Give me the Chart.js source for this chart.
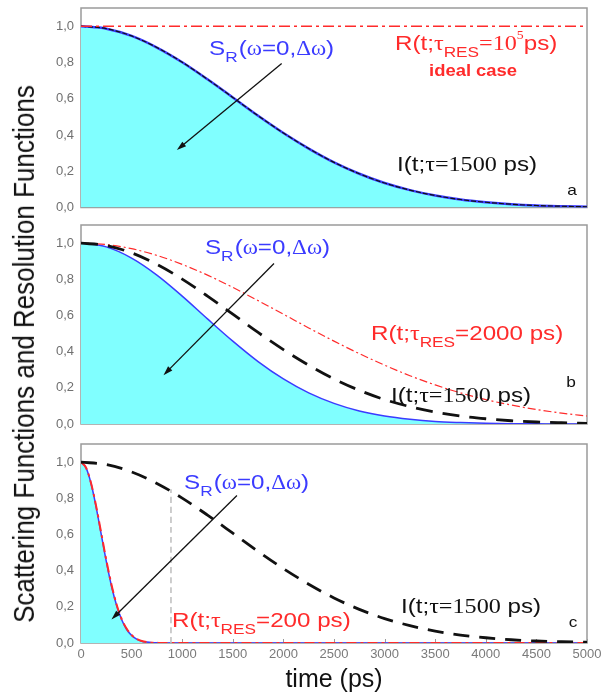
<!DOCTYPE html>
<html>
<head>
<meta charset="utf-8">
<script src="https://cdn.jsdelivr.net/npm/chart.js@4.4.1/dist/chart.umd.min.js"></script>
<style>
  body { margin: 0; background: #fff; }
  #wrap { position: relative; width: 612px; height: 697px; overflow: hidden; }
  .panel { position: absolute; left: 0; }
  #ytitle {
    position: absolute; left: 25px; top: 354px;
    transform: translate(-50%, -50%) rotate(-90deg) scaleY(1.1);
    white-space: nowrap; font-family: "Liberation Sans", Arial, sans-serif;
    font-size: 26px; color: #111;
  }
</style>
</head>
<body>
<div id="wrap">
  <canvas id="pa" class="panel" width="612" height="220" style="top:0px"></canvas>
  <canvas id="pb" class="panel" width="612" height="215" style="top:220px"></canvas>
  <canvas id="pc" class="panel" width="612" height="262" style="top:435px"></canvas>
  <div id="ytitle">Scattering Functions and Resolution Functions</div>
</div>
<script>
// time grid (ps) and curves
const times = [0, 250, 500, 750, 1000, 1250, 1500, 1750, 2000, 2250, 2500, 2750, 3000, 3250, 3500, 3750, 4000, 4250, 4500, 4750, 5000];
const iCurve = [1.000, 0.986, 0.946, 0.882, 0.801, 0.707, 0.607, 0.506, 0.411, 0.325, 0.249, 0.186, 0.135, 0.096, 0.066, 0.044, 0.029, 0.018, 0.011, 0.007, 0.004];

// panel a : ideal resolution
const rTimesA = [0, 5000];
const rCurveA = [1.0, 1.0];
const sCurveA = [1.000, 0.986, 0.946, 0.882, 0.801, 0.707, 0.607, 0.506, 0.411, 0.325, 0.249, 0.186, 0.135, 0.096, 0.066, 0.044, 0.029, 0.018, 0.011, 0.007, 0.004];

// panel b : resolution 2000 ps
const rCurveB = [1.000, 0.992, 0.969, 0.932, 0.882, 0.823, 0.755, 0.682, 0.607, 0.531, 0.458, 0.389, 0.325, 0.267, 0.216, 0.172, 0.135, 0.105, 0.080, 0.060, 0.044];
const sCurveB = [1.000, 0.979, 0.917, 0.823, 0.707, 0.581, 0.458, 0.345, 0.249, 0.172, 0.114, 0.072, 0.044, 0.026, 0.014, 0.008, 0.004, 0.002, 0.001, 0.000, 0.000];

// panel c : resolution 200 ps
const fineTimes = [0, 50, 100, 150, 200, 250, 300, 350, 400, 450, 500, 550, 600, 650, 700, 750, 800, 1000, 1500, 2000, 2500, 3000, 3500, 4000, 4500, 5000];
const rCurveC = [1.000, 0.969, 0.882, 0.755, 0.607, 0.458, 0.325, 0.216, 0.135, 0.080, 0.044, 0.023, 0.011, 0.005, 0.002, 0.001, 0, 0, 0, 0, 0, 0, 0, 0, 0, 0];
const sCurveC = [1.000, 0.968, 0.880, 0.750, 0.600, 0.451, 0.318, 0.211, 0.131, 0.076, 0.042, 0.021, 0.010, 0.005, 0.002, 0.001, 0, 0, 0, 0, 0, 0, 0, 0, 0, 0];
const markerTimes = [889, 889];
const markerValues = [0, 0.85];

const yTicks = [0, 0.2, 0.4, 0.6, 0.8, 1.0];
const xTicks = [0, 500, 1000, 1500, 2000, 2500, 3000, 3500, 4000, 4500, 5000];

const SANS = '"Liberation Sans", Arial, sans-serif';
const SERIF = '"Liberation Serif", "Times New Roman", serif';
const BLUE = '#3b3bff', RED = '#ff2b2b', CYAN = '#80ffff';
const STRETCH = 1.15; // the figure's lettering is a bit wide

function pts(xs, ys) {
    return xs.map((x, i) => ({ x: x, y: ys[i] }));
}

function sLabel() {
    return [
        { text: 'S', size: 21 },
        { text: 'R', size: 15, dy: 7, gap: 1 },
        { text: '(', size: 21 },
        { text: 'ω', size: 20, serif: true },
        { text: '=0,', size: 21 },
        { text: 'Δω', size: 20, serif: true },
        { text: ')', size: 21 }
    ];
}
function iLabel() {
    return [
        { text: 'I(t;', size: 21 },
        { text: 'τ=1500', size: 21, serif: true },
        { text: ' ps)', size: 21 }
    ];
}
function rLabel(rest) {
    return [
        { text: 'R(t;', size: 21 },
        { text: 'τ', size: 21, serif: true },
        { text: 'RES', size: 15, dy: 7 }
    ].concat(rest);
}

function setFont(ctx, p) {
    ctx.font = (p.bold ? 'bold ' : '') + p.size + 'px ' + (p.serif ? SERIF : SANS);
}

function drawParts(ctx, x, y, parts, color, align) {
    let total = 0;
    parts.forEach(p => {
        setFont(ctx, p);
        total += ctx.measureText(p.text).width + (p.gap || 0);
    });
    ctx.save();
    ctx.translate(x, y);
    ctx.scale(STRETCH, 1);
    let cx = align === 'center' ? -total / 2 : 0;
    ctx.fillStyle = color;
    ctx.textBaseline = 'alphabetic';
    ctx.textAlign = 'left';
    parts.forEach(p => {
        setFont(ctx, p);
        ctx.fillText(p.text, cx, p.dy || 0);
        cx += ctx.measureText(p.text).width + (p.gap || 0);
    });
    ctx.restore();
}

// frame under the curves, then arrows and in-plot texts on top
const decor = {
    id: 'decor',
    beforeDatasetsDraw(chart, args, opts) {
        const ctx = chart.ctx, a = chart.chartArea;
        const xs = chart.scales.x;
        ctx.save();
        ctx.strokeStyle = '#9a9a9a';
        ctx.lineWidth = 1.5;
        ctx.strokeRect(a.left, a.top, a.right - a.left, a.bottom - a.top);
        if (opts.ticks) {
            ctx.lineWidth = 1;
            xTicks.forEach(t => {
                const px = Math.round(xs.getPixelForValue(t)) + 0.5;
                ctx.beginPath(); ctx.moveTo(px, a.bottom); ctx.lineTo(px, a.bottom - 4); ctx.stroke();
            });
        }
        ctx.restore();
    },
    afterDatasetsDraw(chart, args, opts) {
        const ctx = chart.ctx;
        const xs = chart.scales.x, ys = chart.scales.y;
        ctx.save();
        (opts.arrows || []).forEach(ar => {
            const x0 = xs.getPixelForValue(ar[0]), y0 = ys.getPixelForValue(ar[1]);
            const x1 = xs.getPixelForValue(ar[2]), y1 = ys.getPixelForValue(ar[3]);
            const ang = Math.atan2(y1 - y0, x1 - x0);
            ctx.strokeStyle = '#111'; ctx.fillStyle = '#111'; ctx.lineWidth = 1.3;
            ctx.beginPath(); ctx.moveTo(x0, y0); ctx.lineTo(x1 - 6 * Math.cos(ang), y1 - 6 * Math.sin(ang)); ctx.stroke();
            ctx.beginPath();
            ctx.moveTo(x1, y1);
            ctx.lineTo(x1 - 10 * Math.cos(ang - 0.3), y1 - 10 * Math.sin(ang - 0.3));
            ctx.lineTo(x1 - 10 * Math.cos(ang + 0.3), y1 - 10 * Math.sin(ang + 0.3));
            ctx.closePath(); ctx.fill();
        });
        (opts.labels || []).forEach(l => {
            drawParts(ctx, xs.getPixelForValue(l.x), ys.getPixelForValue(l.y), l.parts, l.color, l.align);
        });
        ctx.restore();
    }
};

function makeChart(id, datasets, pad, showX, decorOpts) {
    return new Chart(document.getElementById(id), {
        type: 'line',
        data: { datasets: datasets },
        plugins: [decor],
        options: {
            responsive: false,
            animation: false,
            layout: { padding: pad },
            elements: { point: { radius: 0 }, line: { cubicInterpolationMode: 'monotone' } },
            plugins: { legend: { display: false }, tooltip: { enabled: false }, decor: decorOpts },
            scales: {
                x: {
                    type: 'linear', min: 0, max: 5000,
                    display: showX,
                    grid: { display: false, drawTicks: false },
                    border: { display: false },
                    afterBuildTicks: s => { s.ticks = xTicks.map(v => ({ value: v })); },
                    afterFit: s => {
                        s.height = showX ? 54 : 0;
                        s.paddingLeft = 0; s.paddingRight = 0;
                    },
                    ticks: {
                        padding: 4, color: '#7a7a7a', font: { family: SANS, size: 13 },
                        maxRotation: 0, autoSkip: false,
                        callback: v => String(v)
                    },
                    title: { display: showX, text: 'time (ps)', color: '#111', font: { family: SANS, size: 25 }, padding: { top: 2, bottom: 2 } }
                },
                y: {
                    min: 0, max: 1.1,
                    grid: { display: false, drawTicks: false },
                    border: { display: false },
                    afterBuildTicks: s => { s.ticks = yTicks.map(v => ({ value: v })); },
                    afterFit: s => {
                        s.width = 81;
                        s.paddingTop = 0; s.paddingBottom = 0;
                    },
                    ticks: {
                        padding: 7, color: '#707070', font: { family: SANS, size: 13 },
                        callback: v => v.toFixed(1).replace('.', ',')
                    }
                }
            }
        }
    });
}

// panel a
makeChart('pa', [
    { data: pts(rTimesA, rCurveA), borderColor: RED, borderWidth: 1.5, borderDash: [11, 4, 3, 4] },
    { data: pts(times, iCurve), borderColor: '#111', borderWidth: 1.2, borderDash: [5, 2] },
    { data: pts(times, sCurveA), borderColor: BLUE, borderWidth: 2.5, fill: 'origin', backgroundColor: CYAN }
], { left: 0, right: 25, top: 8, bottom: 12.5 }, false, {
    arrows: [[1983, 0.794, 947, 0.317]],
    labels: [
        { x: 1265, y: 0.84, color: BLUE, parts: sLabel() },
        { x: 3103, y: 0.868, color: RED, parts: rLabel([
            { text: '=10', size: 21, serif: true },
            { text: '5', size: 12, serif: true, dy: -11 },
            { text: 'ps)', size: 21 }
        ]) },
        { x: 3874, y: 0.725, color: RED, align: 'center', parts: [{ text: 'ideal case', size: 16, bold: true }] },
        { x: 3123, y: 0.20, color: '#111', parts: iLabel() },
        { x: 4852, y: 0.07, color: '#111', align: 'center', parts: [{ text: 'a', size: 15 }] }
    ]
});

// panel b
makeChart('pb', [
    { data: pts(times, iCurve), borderColor: '#111', borderWidth: 2.8, borderDash: [17, 10] },
    { data: pts(times, rCurveB), borderColor: RED, borderWidth: 1.2, borderDash: [8, 3, 2, 3] },
    { data: pts(times, sCurveB), borderColor: BLUE, borderWidth: 1.5, fill: 'origin', backgroundColor: CYAN }
], { left: 0, right: 25, top: 5, bottom: 11 }, false, {
    arrows: [[1907, 0.887, 815, 0.27]],
    labels: [
        { x: 1225, y: 0.942, color: BLUE, parts: sLabel() },
        { x: 2866, y: 0.463, color: RED, parts: rLabel([{ text: '=2000 ps)', size: 21 }]) },
        { x: 3063, y: 0.121, color: '#111', parts: iLabel() },
        { x: 4842, y: 0.204, color: '#111', align: 'center', parts: [{ text: 'b', size: 15 }] }
    ]
});

// panel c
makeChart('pc', [
    { data: pts(times, iCurve), borderColor: '#111', borderWidth: 2.8, borderDash: [16, 10] },
    { data: pts(markerTimes, markerValues), borderColor: '#bdbdbd', borderWidth: 1.5, borderDash: [6, 4] },
    { data: pts(fineTimes, rCurveC), borderColor: RED, borderWidth: 2, borderDash: [10, 4, 3, 4] },
    { data: pts(fineTimes, sCurveC), borderColor: BLUE, borderWidth: 1.5, fill: 'origin', backgroundColor: CYAN }
], { left: 0, right: 25, top: 9, bottom: 0 }, true, {
    ticks: true,
    arrows: [[1541, 0.815, 301, 0.13]],
    labels: [
        { x: 1018, y: 0.854, color: BLUE, parts: sLabel() },
        { x: 899, y: 0.088, color: RED, parts: rLabel([{ text: '=200 ps)', size: 21 }]) },
        { x: 3162, y: 0.165, color: '#111', parts: iLabel() },
        { x: 4862, y: 0.088, color: '#111', align: 'center', parts: [{ text: 'c', size: 15 }] }
    ]
});
</script>
</body>
</html>
